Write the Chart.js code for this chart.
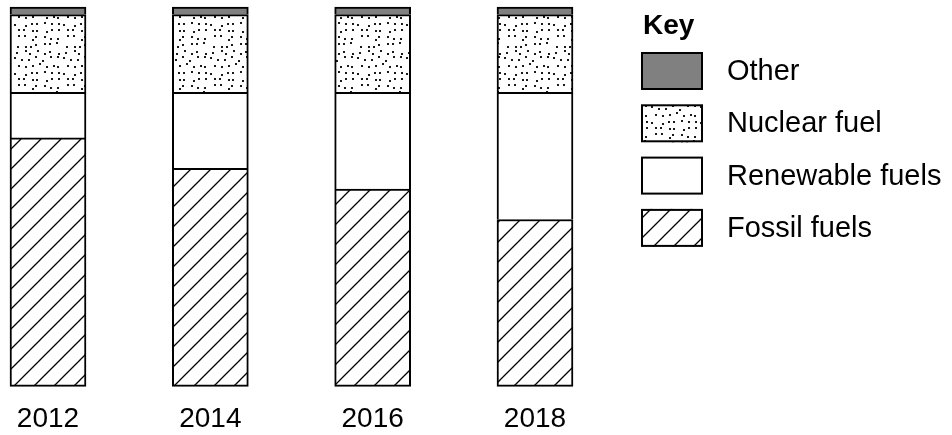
<!DOCTYPE html>
<html>
<head>
<meta charset="utf-8">
<script src="https://cdn.jsdelivr.net/npm/chart.js@4/dist/chart.umd.min.js"></script>
<style>
  html, body { margin: 0; padding: 0; background: #fff; }
</style>
</head>
<body>
<canvas id="energyChart" width="952" height="435"></canvas>
<script>
// Share of electricity by source (percent)
const years = ['2012', '2014', '2016', '2018'];
const fossil = [65.5, 57.5, 52, 44];
const renewable = [12, 20, 25.5, 33.5];
const nuclear = [20.5, 20.5, 20.5, 20.5];
const other = [2, 2, 2, 2];

const FONT = '"Liberation Sans", Arial, sans-serif';

// diagonal hatch for fossil fuels
function hatchPattern() {
    const c = document.createElement('canvas');
    c.width = 20; c.height = 20;
    const g = c.getContext('2d');
    g.fillStyle = '#fff';
    g.fillRect(0, 0, 20, 20);
    g.strokeStyle = '#000';
    g.lineWidth = 1.3;
    g.beginPath();
    g.moveTo(-5, 25); g.lineTo(25, -5);
    g.moveTo(-5, 5); g.lineTo(5, -5);
    g.moveTo(15, 25); g.lineTo(25, 15);
    g.stroke();
    return g.createPattern(c, 'repeat');
}

// stipple for nuclear fuel: one dot per cell, jittered (fixed seed)
function dotPattern() {
    const cell = 7, n = 7, size = cell * n;
    const c = document.createElement('canvas');
    c.width = size; c.height = size;
    const g = c.getContext('2d');
    g.fillStyle = '#fff';
    g.fillRect(0, 0, size, size);
    g.fillStyle = '#1a1a1a';
    let seed = 11;
    function next() {
        seed = (seed * 16807) % 2147483647;
        return seed / 2147483647;
    }
    for (let i = 0; i < n; i++) {
        for (let j = 0; j < n; j++) {
            const x = i * cell + Math.floor(next() * (cell - 2));
            const y = j * cell + Math.floor(next() * (cell - 2));
            g.fillRect(x, y, 2, 2);
        }
    }
    return g.createPattern(c, 'repeat');
}

// the "Key" box on the right
const keyLegend = {
    id: 'keyLegend',
    afterDraw(chart) {
        const ctx = chart.ctx;
        ctx.save();
        ctx.textBaseline = 'middle';
        ctx.textAlign = 'left';
        ctx.fillStyle = '#000';
        ctx.font = 'bold 28px ' + FONT;
        ctx.fillText('Key', 643, 26);
        ctx.font = '29px ' + FONT;
        const items = chart.data.datasets.slice().reverse();
        items.forEach((ds, i) => {
            const top = 52 + i * 52.3;
            ctx.fillStyle = ds.backgroundColor;
            ctx.fillRect(641, top, 62, 38);
            ctx.lineWidth = 2;
            ctx.strokeStyle = '#000';
            ctx.strokeRect(642, top + 1, 60, 36);
            ctx.fillStyle = '#000';
            ctx.fillText(ds.label, 727, top + 20);
        });
        ctx.restore();
    }
};

const common = {
    borderColor: '#000',
    borderWidth: 2,
    barThickness: 76,
    clip: false
};

const ctx = document.getElementById('energyChart').getContext('2d');
new Chart(ctx, {
    type: 'bar',
    data: {
        labels: years,
        datasets: [
            Object.assign({ label: 'Fossil fuels', data: fossil, backgroundColor: hatchPattern(), borderSkipped: false }, common),
            Object.assign({ label: 'Renewable fuels', data: renewable, backgroundColor: '#fff', borderSkipped: 'bottom' }, common),
            Object.assign({ label: 'Nuclear fuel', data: nuclear, backgroundColor: dotPattern(), borderSkipped: 'bottom' }, common),
            Object.assign({ label: 'Other', data: other, backgroundColor: '#808080', borderSkipped: 'bottom' }, common)
        ]
    },
    options: {
        responsive: false,
        animation: false,
        devicePixelRatio: 1,
        layout: { padding: { left: 48, right: 417, top: 7, bottom: -17 } },
        plugins: {
            legend: { display: false },
            tooltip: { enabled: false }
        },
        scales: {
            x: {
                stacked: true,
                offset: false,
                grid: { display: false, drawTicks: false },
                border: { display: false },
                ticks: {
                    color: '#000',
                    font: { size: 28, family: FONT },
                    padding: 16,
                    maxRotation: 0,
                    autoSkip: false
                }
            },
            y: {
                stacked: true,
                display: false,
                min: 0,
                max: 100
            }
        }
    },
    plugins: [keyLegend]
});
</script>
</body>
</html>
